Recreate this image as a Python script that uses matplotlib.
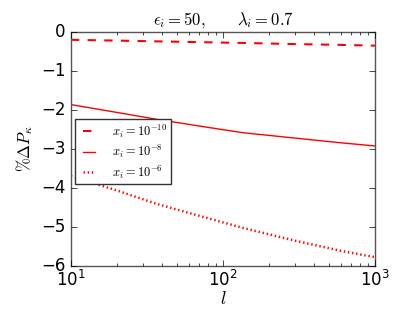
import matplotlib
matplotlib.use('Agg')
import matplotlib.pyplot as plt

plt.style.use('classic')

# values
l_vals = [10, 20, 37, 70, 135, 300, 600, 1000]
dp_x10 = [-0.21, -0.23, -0.25, -0.27, -0.29, -0.32, -0.34, -0.36]
dp_x8 = [-1.87, -2.07, -2.25, -2.42, -2.59, -2.73, -2.85, -2.93]
dp_x6 = [-3.70, -4.07, -4.42, -4.72, -5.03, -5.36, -5.62, -5.78]

labels = [r'$x_i=10^{-10}$', r'$x_i=10^{-8}$', r'$x_i=10^{-6}$']

fig = plt.figure(figsize=(4.17, 3.13), dpi=100, facecolor='white')
ax = fig.add_axes([0.170, 0.151, 0.729, 0.748])

ax.plot(l_vals, dp_x10, 'r--', lw=1.5, label=labels[0])
ax.plot(l_vals, dp_x8, 'r-', lw=1.0, label=labels[1])
ax.plot(l_vals, dp_x6, 'r', lw=1.8, dashes=(1, 2), label=labels[2])

ax.set_xscale('log')
ax.set_xlim(10, 1000)
ax.set_ylim(-6, 0)
ax.set_yticks([-6, -5, -4, -3, -2, -1, 0])
ax.tick_params(axis='x', pad=3)

ax.set_xlabel(r'$l$', fontsize=13, labelpad=0)
ax.set_ylabel(r'$\%\Delta P_\kappa$', fontsize=12, labelpad=4)
ax.set_title(r'$\epsilon_i=50, \qquad \lambda_i=0.7$', fontsize=12, y=1.0)

leg = ax.legend(loc='upper left', bbox_to_anchor=(0.015, 0.627), fontsize=9,
                handlelength=1.6, handletextpad=1.0, borderpad=0.3,
                labelspacing=0.25, borderaxespad=0)
leg.get_frame().set_edgecolor('#333333')

for s in ax.spines.values():
    s.set_edgecolor('#555555')

fig.savefig('out.png', dpi=100, facecolor='white')
